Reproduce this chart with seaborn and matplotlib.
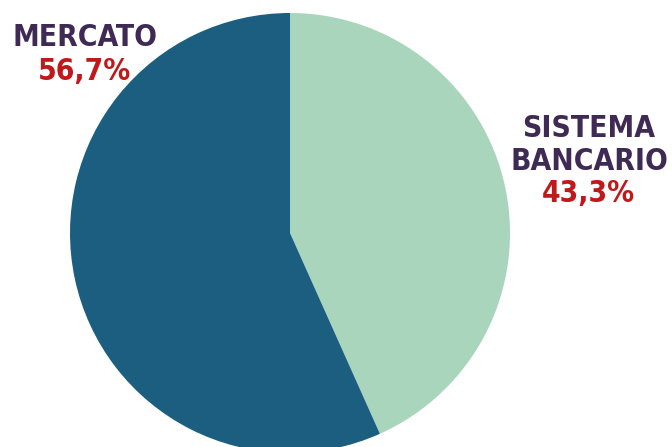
import matplotlib
matplotlib.use("Agg")
import matplotlib.pyplot as plt
import seaborn as sns

categories = ["SISTEMA\nBANCARIO", "MERCATO"]
values = [43.3, 56.7]
pct_labels = ["43,3%", "56,7%"]
colors = ["#A9D5BC", "#1B5E80"]

sns.set_theme(style="white")
plt.rcParams['font.family'] = ['DejaVu Sans']

W, H = 672, 447
fig = plt.figure(figsize=(W / 100, H / 100), dpi=100)
ax = fig.add_axes([0, 0, 1, 1])
ax.pie(values, colors=colors, startangle=90, counterclock=False,
       radius=220, center=(290, H - 233),
       wedgeprops=dict(linewidth=0))
ax.set_xlim(0, W)
ax.set_ylim(0, H)
ax.set_aspect("equal")
ax.axis("off")

name_color = "#3F2A56"
pct_color = "#C0191C"
fs = 21.5
kw = dict(ha="center", va="center", fontsize=fs, fontweight="bold", fontstretch="condensed")
ax.text(589, H - 145, categories[0], color=name_color, linespacing=1.16, **kw)
ax.text(588, H - 194, pct_labels[0], color=pct_color, **kw)
ax.text(85, H - 37, categories[1], color=name_color, **kw)
ax.text(85, H - 72, pct_labels[1], color=pct_color, **kw)

fig.savefig("out.png", dpi=100)
